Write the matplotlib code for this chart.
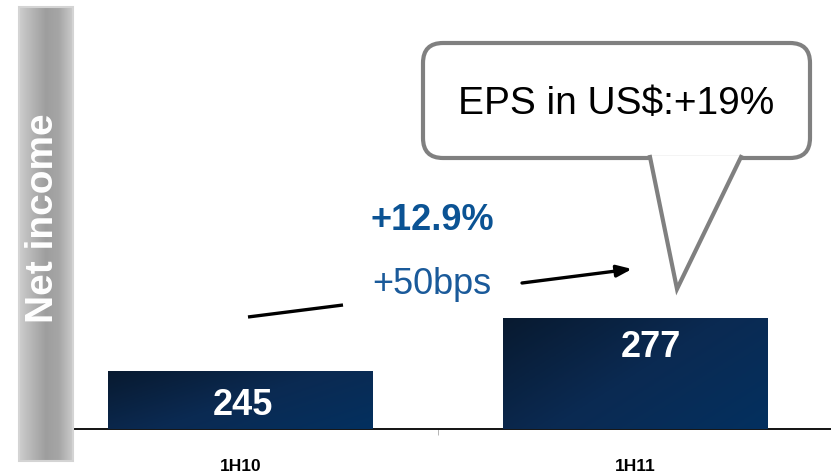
import matplotlib
matplotlib.use("Agg")
import matplotlib.pyplot as plt
import numpy as np
from matplotlib.patches import FancyBboxPatch, Polygon
from matplotlib.colors import LinearSegmentedColormap

plt.rcParams['font.family'] = ['Liberation Sans', 'DejaVu Sans']

periods = ['1H10', '1H11']
net_income = [245, 277]
growth_label = '+12.9%'
margin_label = '+50bps'
eps_label = 'EPS in US$:+19%'

fig = plt.figure(figsize=(8.31, 4.75), dpi=100)
ax = fig.add_axes([0.0517, 0.0968, 0.9507, 0.9032])

x = np.arange(len(periods))
bars = ax.bar(x, net_income, width=0.67, bottom=0, color='#062347', zorder=2)
ax.set_xlim(-0.5, 1.5)
ax.set_ylim(210, 469)

# diagonal navy gradient inside each bar
navy = LinearSegmentedColormap.from_list('navy', ['#081a30', '#0b2a52', '#03305f'])
gx, gy = np.meshgrid(np.linspace(0, 1, 100), np.linspace(0, 1, 100))
grad = (gx * 0.6 + gy * 0.4)
for b in bars:
    x0, w, h = b.get_x(), b.get_width(), b.get_height()
    im = ax.imshow(grad, cmap=navy, extent=(x0, x0 + w, 210, h), origin='upper',
                   aspect='auto', zorder=3)
    im.set_clip_path(b)

# value labels
ax.text(x[0] + 0.005, net_income[0] - 20.5, str(net_income[0]), color='white',
        fontsize=26, fontweight='bold', ha='center', va='center', zorder=5)
ax.text(x[1] + 0.04, net_income[1] - 18, str(net_income[1]), color='white',
        fontsize=26, fontweight='bold', ha='center', va='center', zorder=5)

for s in ['top', 'right', 'left']:
    ax.spines[s].set_visible(False)
ax.spines['bottom'].set_linewidth(1.3)
ax.set_yticks([])
ax.set_xticks([0.5])
ax.set_xticklabels([''])
ax.tick_params(axis='x', length=4, width=0.6, color='#aaaaaa')
for xi, lab in zip(x, periods):
    ax.text(xi, -0.088, lab, transform=ax.get_xaxis_transform(), ha='center', va='center',
            fontsize=12.5, fontweight='bold', color='black')

# overlay in pixel coordinates for the decorations
ov = fig.add_axes([0, 0, 1, 1], zorder=10)
ov.set_xlim(0, 831)
ov.set_ylim(475, 0)
ov.axis('off')
ov.patch.set_alpha(0)

# grey side band with label
gray = LinearSegmentedColormap.from_list('g', ['#cdcdcd', '#b4b4b4', '#9e9e9e', '#a6a6a6', '#cacaca'])
ov.imshow(np.linspace(0, 1, 60)[None, :], cmap=gray, extent=(19, 73, 461, 7), aspect='auto')
ov.add_patch(plt.Rectangle((19, 7), 54, 454, fill=False, edgecolor='#d4d4d4', lw=1.5))
ov.text(43, 218, 'Net income', rotation=90, color='white', fontsize=28, fontweight='bold',
        ha='center', va='center')

# growth arrow, broken where the text sits
ov.plot([248, 343], [317, 305], color='black', lw=2.4, solid_capstyle='butt')
ov.annotate('', xy=(632, 269), xytext=(522, 283),
            arrowprops=dict(arrowstyle='-|>,head_length=0.9,head_width=0.35', color='black', lw=2.4,
                            shrinkA=0, shrinkB=0))
ov.text(432, 285, margin_label, color='#1a5a9a', fontsize=26, ha='center', va='center')
ov.text(432, 220, growth_label, color='#0b5394', fontsize=26, fontweight='bold',
        ha='center', va='center')

# speech bubble
bub = FancyBboxPatch((423, 43), 387, 115, boxstyle='round,pad=0,rounding_size=20',
                     facecolor='white', edgecolor='#808080', lw=3)
ov.add_patch(bub)
ov.add_patch(Polygon([(650, 156), (741, 156), (677, 289)], closed=True, facecolor='white', edgecolor='none'))
ov.plot([650, 677, 741], [157, 289, 157], color='#808080', lw=3, solid_joinstyle='miter')
ov.text(616, 104, eps_label, color='black', fontsize=28, ha='center', va='center')

fig.savefig('out.png', dpi=100)
